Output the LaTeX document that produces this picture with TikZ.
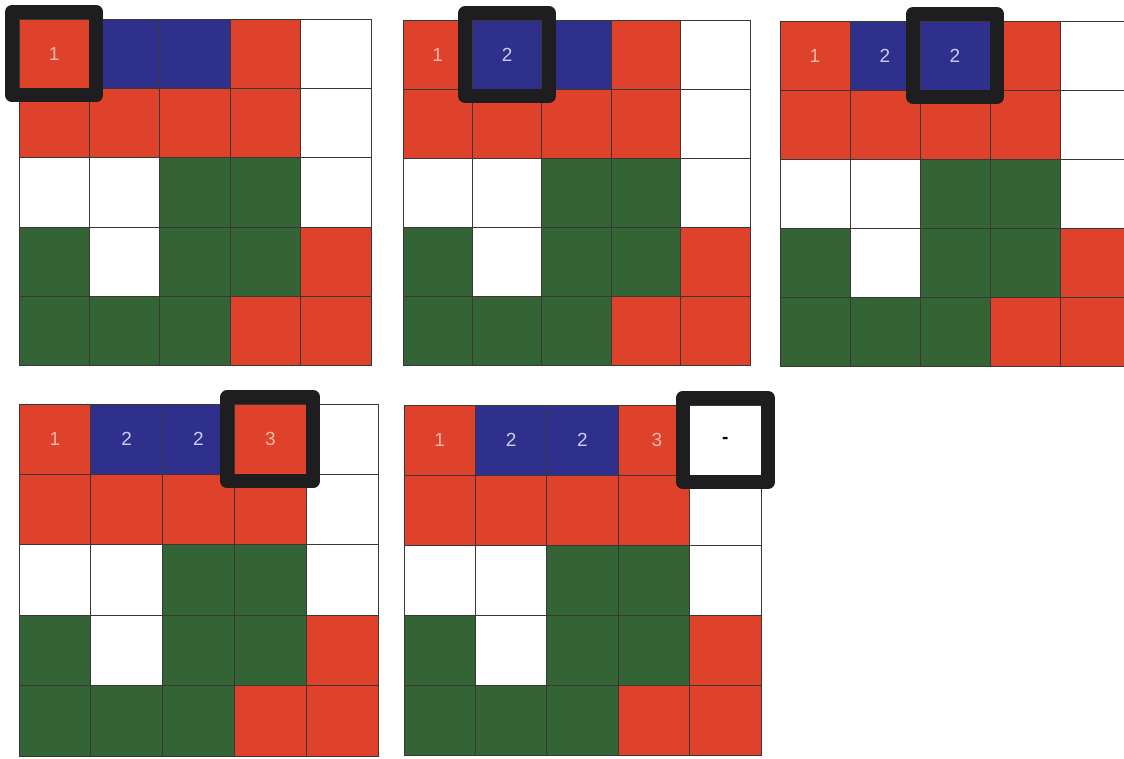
\documentclass[tikz,border=0pt]{standalone}
\usepackage{fontspec}
\setmainfont{Liberation Sans}
\definecolor{colR}{RGB}{222,66,42}
\definecolor{colB}{RGB}{46,48,140}
\definecolor{colG}{RGB}{52,100,54}
\definecolor{colW}{RGB}{255,255,255}
\definecolor{gridc}{RGB}{60,55,55}
\definecolor{hlc}{RGB}{30,30,32}
\definecolor{txtR}{RGB}{248,186,168}
\definecolor{txtB}{RGB}{205,205,240}
\tikzset{
  cellbox/.style={draw=gridc, line width=0.7pt, inner sep=0pt, outer sep=0pt},
  numR/.style={text=txtR, font=\fontsize{19}{19}\selectfont, inner sep=0pt},
  numB/.style={text=txtB, font=\fontsize{19}{19}\selectfont, inner sep=0pt},
  numW/.style={text=black, font=\fontsize{19}{19}\selectfont\bfseries, inner sep=0pt},
  hlbox/.style={draw=hlc, line width=14pt, line join=round},
}
\newcommand\mygrid[5]{%
  \foreach \c [count=\i from 0] in {R,B,B,R,W, R,R,R,R,W, W,W,G,G,W, G,W,G,G,R, G,G,G,R,R}{%
    \pgfmathtruncatemacro\rr{div(\i,5)}%
    \pgfmathtruncatemacro\cc{mod(\i,5)}%
    \node[cellbox, fill=col\c, minimum width=#4pt, minimum height=#5pt]
      (#1-\rr-\cc) at ({#2+(\cc+0.5)*#4},{#3+(\rr+0.5)*#5}) {};
  }%
}
\newcommand\myhl[1]{%
  \draw[hlbox] ([shift={(-7,-7)}]#1.north west) rectangle ([shift={(7,7)}]#1.south east);
}
\begin{document}
\begin{tikzpicture}[x=1pt,y=-1pt]
\useasboundingbox (0,0) rectangle (1124,759);
\clip (0,0) rectangle (1124,759);
\fill[white] (0,0) rectangle (1124,759);
% grid 1
\mygrid{ga}{19}{19}{70.4}{69.3}
\node[numR] (ga-t1) at (ga-0-0) {1};
\myhl{ga-0-0}
% grid 2
\mygrid{gb}{403}{20}{69.4}{69.1}
\node[numR] (gb-t1) at (gb-0-0) {1};
\node[numB] (gb-t2) at (gb-0-1) {2};
\myhl{gb-0-1}
% grid 3
\mygrid{gc}{780}{21}{70}{69}
\node[numR] (gc-t1) at (gc-0-0) {1};
\node[numB] (gc-t2) at (gc-0-1) {2};
\node[numB] (gc-t3) at (gc-0-2) {2};
\myhl{gc-0-2}
% grid 4
\mygrid{gd}{19}{404}{71.8}{70.4}
\node[numR] (gd-t1) at (gd-0-0) {1};
\node[numB] (gd-t2) at (gd-0-1) {2};
\node[numB] (gd-t3) at (gd-0-2) {2};
\node[numR] (gd-t4) at (gd-0-3) {3};
\myhl{gd-0-3}
% grid 5
\mygrid{ge}{404}{405}{71.4}{70}
\node[numR] (ge-t1) at (ge-0-0) {1};
\node[numB] (ge-t2) at (ge-0-1) {2};
\node[numB] (ge-t3) at (ge-0-2) {2};
\node[numR] (ge-t4) at ([xshift=3pt]ge-0-3) {3};
\node[numW] (ge-t5) at (ge-0-4) {-};
\myhl{ge-0-4}
\end{tikzpicture}
\end{document}
